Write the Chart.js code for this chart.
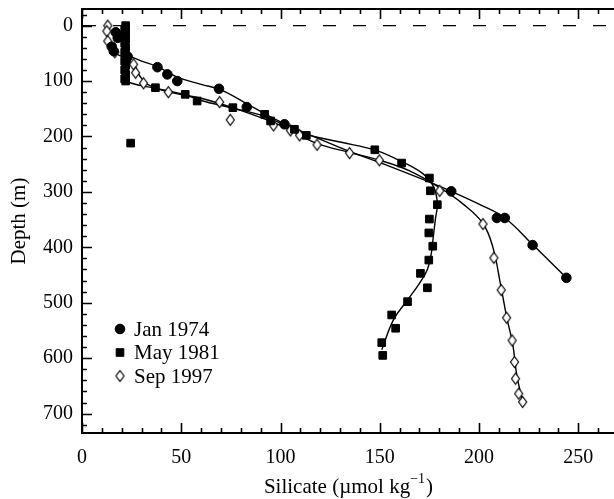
<!DOCTYPE html>
<html>
<head>
<meta charset="utf-8">
<script src="https://cdn.jsdelivr.net/npm/chart.js@4.4.1/dist/chart.umd.min.js"></script>
<style>
html,body{margin:0;padding:0;background:#fff;overflow:hidden;}
canvas{display:block;}
</style>
</head>
<body>
<canvas id="c" width="614" height="499"></canvas>
<script>
// ---- data ----
const seriesNames = ['Jan 1974', 'May 1981', 'Sep 1997'];

// Jan 1974 (filled circles)
const janSil = [17, 18, 15, 16, 23, 38, 43, 48, 69, 83, 102, 186, 209, 213, 227, 244];
const janDep = [12, 22, 38, 46, 56, 75, 88, 100, 114, 147, 178, 299, 347, 347, 396, 455];

// May 1981 (filled squares)
const maySil = [22, 21.5, 22, 21.5, 22, 21.5, 22, 21.5, 22, 21.5, 22, 21.5, 22, 21.5, 22,
                24.5, 37, 52, 58, 76, 92, 95, 107, 113, 147.5, 161, 175, 175.5, 179, 175,
                174.7, 176.7, 174.7, 170.5, 174, 164, 156, 158, 151, 151.5];
const mayDep = [0, 6, 12, 18, 25, 32, 40, 48, 56, 64, 72, 80, 88, 96, 100,
                212, 112, 124, 136, 148, 160, 172, 187, 198, 224, 248, 275, 298, 323, 349,
                374, 398, 423, 447, 473, 498, 522, 546, 572, 595];

// Sep 1997 (open diamonds)
const sepSil = [13, 12.5, 13, 16.5, 26, 27, 31, 43.5, 69.3, 74.7, 96.5, 105, 109.6, 118.4, 134.8,
                149.8, 180.2, 202, 207.5, 211.2, 213.9, 216.7, 217.9, 218.4, 220, 222];
const sepDep = [0, 10, 28, 48, 70, 85, 104, 120, 138, 170, 180, 189, 198, 215, 230,
                243, 298, 358, 419, 477, 527, 568, 607, 637, 664, 679];

// smoothed profile curves drawn through each series
const janFitSil = [22, 30, 38, 48, 60, 70, 84, 102, 130, 155, 172, 186, 200, 213, 227, 244];
const janFitDep = [52, 64, 74, 93, 106, 116, 143, 177, 220, 254, 278, 299, 322, 347, 395, 455];
const mayFitSil = [22, 22, 25, 37, 52, 60, 76, 93, 110, 130, 148, 162, 172, 177, 179, 178, 177, 176, 174, 170, 164, 157, 151];
const mayFitDep = [0, 95, 104, 113, 125, 135, 149, 165, 193, 210, 225, 247, 268, 290, 320, 350, 380, 410, 440, 465, 495, 530, 585];
const sepFitSil = [16, 26, 29, 33, 44, 60, 80, 100, 118, 135, 150, 165, 180, 192, 202, 207, 211, 214, 217, 219, 222];
const sepFitDep = [48, 70, 90, 106, 120, 131, 153, 180, 212, 229, 243, 262, 292, 322, 357, 400, 470, 527, 575, 630, 679];

// axis ticks
const xTickVals = [0, 50, 100, 150, 200, 250];
const yTickVals = [0, 100, 200, 300, 400, 500, 600, 700];
const xMinorStep = 10;
const yMinorStep = 20;

// ---- build ----
const pts = (xs, ys) => xs.map((v, i) => ({x: v, y: ys[i]}));
const FONT = '"Liberation Serif", "Times New Roman", serif';

function makeDiamond(w, h) {
  const c = document.createElement('canvas');
  c.width = w + 3; c.height = h + 3;
  const g = c.getContext('2d');
  const cx = c.width / 2, cy = c.height / 2;
  g.fillStyle = '#fff'; g.strokeStyle = '#000'; g.lineWidth = 1.2;
  g.beginPath();
  g.moveTo(cx, cy - h / 2); g.lineTo(cx + w / 2, cy); g.lineTo(cx, cy + h / 2); g.lineTo(cx - w / 2, cy); g.closePath();
  g.fill(); g.stroke();
  return c;
}
const diamondImg = makeDiamond(8, 11);

const markerStyles = [
  {pointStyle: 'circle', radius: 4.8, bg: '#000', border: '#000', bw: 1},
  {pointStyle: 'rect', radius: 5.4, bg: '#000', border: '#000', bw: 1},
  {pointStyle: diamondImg, radius: 5, bg: '#fff', border: '#000', bw: 1.2}
];

function lineDs(xs, ys) {
  return {type: 'line', data: pts(xs, ys), showLine: true, pointRadius: 0, borderColor: '#000',
          borderWidth: 1.4, tension: 0.4, fill: false, order: 2};
}
function ptDs(label, xs, ys, m) {
  return {type: 'scatter', label, data: pts(xs, ys), showLine: false, pointStyle: m.pointStyle,
          pointRadius: m.radius, pointBackgroundColor: m.bg, pointBorderColor: m.border,
          pointBorderWidth: m.bw, order: 1};
}
const datasets = [
  lineDs(janFitSil, janFitDep), lineDs(mayFitSil, mayFitDep), lineDs(sepFitSil, sepFitDep),
  ptDs(seriesNames[0], janSil, janDep, markerStyles[0]),
  ptDs(seriesNames[1], maySil, mayDep, markerStyles[1]),
  ptDs(seriesNames[2], sepSil, sepDep, markerStyles[2])
];

function drawMarker(ctx, m, x, y) {
  ctx.save();
  ctx.fillStyle = m.bg; ctx.strokeStyle = m.border; ctx.lineWidth = m.bw;
  const r = m.radius;
  if (m.pointStyle === 'circle') {
    ctx.beginPath(); ctx.arc(x, y, r, 0, Math.PI * 2); ctx.fill(); ctx.stroke();
  } else if (m.pointStyle === 'rect') {
    const s = r * Math.SQRT1_2;
    ctx.beginPath(); ctx.rect(x - s, y - s, 2 * s, 2 * s); ctx.fill(); ctx.stroke();
  } else {
    ctx.drawImage(m.pointStyle, x - m.pointStyle.width / 2, y - m.pointStyle.height / 2);
  }
  ctx.restore();
}

const decor = {
  id: 'decor',
  afterLayout(chart) {
    // let the plot run to the right edge of the canvas (the reference frame is cut off there)
    const x = chart.scales.x;
    x.right = chart.width;
    x.width = x.right - x.left;
    x.configure();
    chart.chartArea.right = chart.width;
    chart.chartArea.width = chart.chartArea.right - chart.chartArea.left;
  },
  beforeDatasetsDraw(chart) {
    const {ctx, chartArea: a, scales: {y}} = chart;
    const y0 = y.getPixelForValue(0);
    ctx.save();
    ctx.setLineDash([13, 17]); ctx.lineWidth = 1.3; ctx.strokeStyle = '#000';
    ctx.beginPath(); ctx.moveTo(a.left + 1, y0); ctx.lineTo(a.right, y0); ctx.stroke();
    ctx.restore();
  },
  afterDraw(chart) {
    const {ctx, chartArea: a, scales: {x, y}} = chart;
    ctx.save();
    ctx.strokeStyle = '#000'; ctx.lineWidth = 2;
    ctx.beginPath();
    ctx.moveTo(a.right, a.top); ctx.lineTo(a.left, a.top); ctx.lineTo(a.left, a.bottom); ctx.lineTo(a.right, a.bottom);
    ctx.stroke();
    ctx.lineWidth = 1.6;
    ctx.beginPath();
    for (let v = Math.ceil(y.min / yMinorStep) * yMinorStep; v <= y.max; v += yMinorStep) {
      const py = Math.round(y.getPixelForValue(v)) + 0.5;
      const len = (v % 100 === 0) ? 10 : 5;
      ctx.moveTo(a.left, py); ctx.lineTo(a.left + len, py);
    }
    for (let v = 0; v <= x.max; v += xMinorStep) {
      const px = Math.round(x.getPixelForValue(v)) + 0.5;
      const len = (v % 50 === 0) ? 10 : 5;
      ctx.moveTo(px, a.bottom); ctx.lineTo(px, a.bottom - len);
      ctx.moveTo(px, a.top); ctx.lineTo(px, a.top + len);
    }
    ctx.stroke();
    // legend
    ctx.font = '21px ' + FONT; ctx.fillStyle = '#000'; ctx.textBaseline = 'middle'; ctx.textAlign = 'left';
    const lx = a.left + 38, ly = a.top + 320, dy = 23.5;
    seriesNames.forEach((n, i) => {
      drawMarker(ctx, markerStyles[i], lx, ly + i * dy);
      ctx.fillText(n, lx + 14, ly + i * dy + 1);
    });
    // x title with superscript
    const cx = (a.left + a.right) / 2, ty = 487;
    const t1 = 'Silicate (\u00B5mol kg', t2 = '\u22121', t3 = ')';
    ctx.font = '21px ' + FONT;
    const w1 = ctx.measureText(t1).width, w3 = ctx.measureText(t3).width;
    ctx.font = '14px ' + FONT;
    const w2 = ctx.measureText(t2).width;
    let sx = cx - (w1 + w2 + w3) / 2;
    ctx.font = '21px ' + FONT; ctx.fillText(t1, sx, ty);
    ctx.font = '14px ' + FONT; ctx.fillText(t2, sx + w1, ty - 8);
    ctx.font = '21px ' + FONT; ctx.fillText(t3, sx + w1 + w2 + 1, ty);
    // y title
    ctx.save();
    ctx.translate(19, (a.top + a.bottom) / 2); ctx.rotate(-Math.PI / 2); ctx.textAlign = 'center';
    ctx.fillText('Depth (m)', 0, 0);
    ctx.restore();
    ctx.restore();
  }
};

new Chart(document.getElementById('c'), {
  type: 'scatter',
  data: {datasets},
  plugins: [decor],
  options: {
    responsive: false, animation: false,
    layout: {padding: {top: 9, right: 0, left: 0, bottom: 0}},
    plugins: {legend: {display: false}, tooltip: {enabled: false}},
    scales: {
      x: {
        type: 'linear', min: 0, max: 268,
        grid: {display: false, drawTicks: false}, border: {display: false},
        afterBuildTicks: s => { s.ticks = xTickVals.map(v => ({value: v})); },
        afterFit: s => { s.height = 66; s.paddingLeft = 0; s.paddingRight = 0; },
        ticks: {padding: 13, color: '#000', font: {family: FONT, size: 20}}
      },
      y: {
        type: 'linear', reverse: true, min: -30, max: 735,
        grid: {display: false, drawTicks: false}, border: {display: false},
        afterBuildTicks: s => { s.ticks = yTickVals.map(v => ({value: v})); },
        afterFit: s => { s.width = 82; s.paddingTop = 0; s.paddingBottom = 0; },
        ticks: {padding: 9, color: '#000', font: {family: FONT, size: 20}}
      }
    }
  }
});
</script>
</body>
</html>
